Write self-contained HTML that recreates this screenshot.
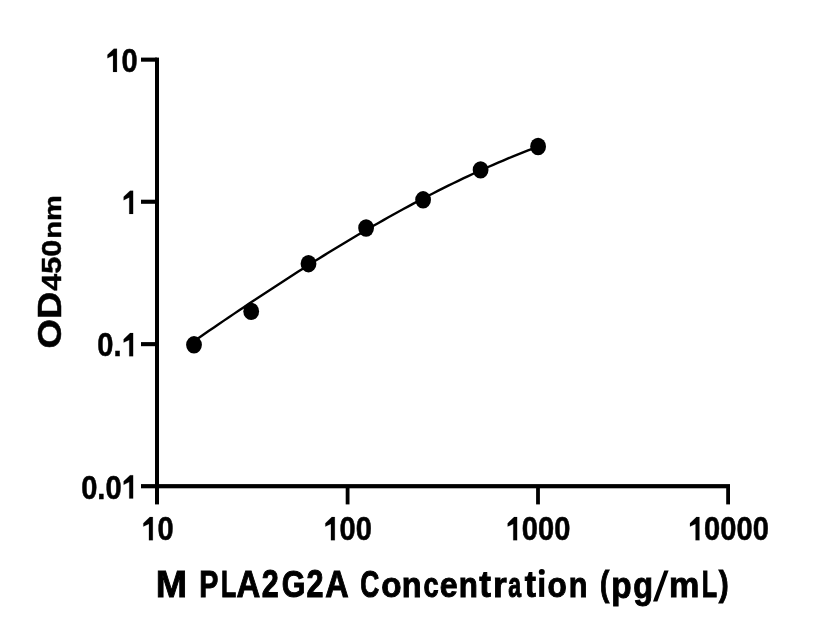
<!DOCTYPE html>
<html><head><meta charset="utf-8"><style>
html,body{margin:0;padding:0;background:#fff;}
svg{display:block;filter:grayscale(1);}
text{font-family:"Liberation Sans", sans-serif;font-weight:bold;fill:#000;}
</style></head><body>
<svg width="816" height="640" viewBox="0 0 816 640">
<title>OD450nm vs M PLA2G2A Concentration (pg/mL)</title>
<rect width="816" height="640" fill="#fff"/>
<rect x="155" y="57.6" width="4" height="446.8" fill="#000"/>
<rect x="141" y="57.60" width="16" height="4.1" fill="#000"/>
<rect x="141" y="199.70" width="16" height="4.1" fill="#000"/>
<rect x="141" y="342.10" width="16" height="4.1" fill="#000"/>
<rect x="141" y="484.1" width="589" height="4.2" fill="#000"/>
<rect x="345.70" y="486" width="3.8" height="18.4" fill="#000"/>
<rect x="536.10" y="486" width="3.8" height="18.4" fill="#000"/>
<rect x="726.20" y="486" width="3.8" height="18.4" fill="#000"/>
<path d="M194.00,341.09 L198.99,337.66 L203.97,334.23 L208.96,330.81 L213.94,327.41 L218.93,324.01 L223.91,320.62 L228.90,317.25 L233.88,313.88 L238.87,310.52 L243.86,307.18 L248.84,303.85 L253.83,300.53 L258.81,297.23 L263.80,293.93 L268.78,290.66 L273.77,287.39 L278.75,284.14 L283.74,280.91 L288.72,277.69 L293.71,274.49 L298.70,271.30 L303.68,268.14 L308.67,264.99 L313.65,261.85 L318.64,258.74 L323.62,255.64 L328.61,252.57 L333.59,249.51 L338.58,246.48 L343.57,243.46 L348.55,240.47 L353.54,237.49 L358.52,234.54 L363.51,231.61 L368.49,228.71 L373.48,225.83 L378.46,222.97 L383.45,220.13 L388.43,217.32 L393.42,214.54 L398.41,211.78 L403.39,209.05 L408.38,206.34 L413.36,203.66 L418.35,201.01 L423.33,198.38 L428.32,195.79 L433.30,193.22 L438.29,190.68 L443.28,188.17 L448.26,185.69 L453.25,183.25 L458.23,180.83 L463.22,178.44 L468.20,176.09 L473.19,173.77 L478.17,171.48 L483.16,169.22 L488.14,167.00 L493.13,164.81 L498.12,162.66 L503.10,160.54 L508.09,158.45 L513.07,156.40 L518.06,154.39 L523.04,152.42 L528.03,150.48 L533.01,148.58 L538.00,146.72" fill="none" stroke="#000" stroke-width="2.4" stroke-linejoin="round"/>
<ellipse cx="194" cy="344.8" rx="7.9" ry="8.7" fill="#000"/>
<ellipse cx="251.2" cy="311.4" rx="7.9" ry="8.7" fill="#000"/>
<ellipse cx="308.5" cy="263.7" rx="7.9" ry="8.7" fill="#000"/>
<ellipse cx="366.1" cy="228" rx="7.9" ry="8.7" fill="#000"/>
<ellipse cx="423.1" cy="199.8" rx="7.9" ry="8.7" fill="#000"/>
<ellipse cx="480.6" cy="169.9" rx="7.9" ry="8.7" fill="#000"/>
<ellipse cx="538.1" cy="146.5" rx="7.9" ry="8.7" fill="#000"/>
<path transform="translate(141.32,540.30) scale(29.1,-32.883)" d="M0.395,0 L0.395,0.707 L0.291,0.707 L0.070,0.521 L0.070,0.416 L0.262,0.498 L0.262,0 Z" fill="#000" stroke="#000" stroke-width="0.0052" stroke-linejoin="miter"/><text transform="translate(157.50,540.30) scale(1,1.13)" font-size="29.1" stroke="#000" stroke-width="0.45">0</text>
<path transform="translate(323.32,540.30) scale(29.1,-32.883)" d="M0.395,0 L0.395,0.707 L0.291,0.707 L0.070,0.521 L0.070,0.416 L0.262,0.498 L0.262,0 Z" fill="#000" stroke="#000" stroke-width="0.0052" stroke-linejoin="miter"/><text transform="translate(339.51,540.30) scale(1,1.13)" font-size="29.1" stroke="#000" stroke-width="0.45">0</text><text transform="translate(355.69,540.30) scale(1,1.13)" font-size="29.1" stroke="#000" stroke-width="0.45">0</text>
<path transform="translate(505.63,540.30) scale(29.1,-32.883)" d="M0.395,0 L0.395,0.707 L0.291,0.707 L0.070,0.521 L0.070,0.416 L0.262,0.498 L0.262,0 Z" fill="#000" stroke="#000" stroke-width="0.0052" stroke-linejoin="miter"/><text transform="translate(521.82,540.30) scale(1,1.13)" font-size="29.1" stroke="#000" stroke-width="0.45">0</text><text transform="translate(538.00,540.30) scale(1,1.13)" font-size="29.1" stroke="#000" stroke-width="0.45">0</text><text transform="translate(554.18,540.30) scale(1,1.13)" font-size="29.1" stroke="#000" stroke-width="0.45">0</text>
<path transform="translate(687.94,540.30) scale(29.1,-32.883)" d="M0.395,0 L0.395,0.707 L0.291,0.707 L0.070,0.521 L0.070,0.416 L0.262,0.498 L0.262,0 Z" fill="#000" stroke="#000" stroke-width="0.0052" stroke-linejoin="miter"/><text transform="translate(704.12,540.30) scale(1,1.13)" font-size="29.1" stroke="#000" stroke-width="0.45">0</text><text transform="translate(720.31,540.30) scale(1,1.13)" font-size="29.1" stroke="#000" stroke-width="0.45">0</text><text transform="translate(736.49,540.30) scale(1,1.13)" font-size="29.1" stroke="#000" stroke-width="0.45">0</text><text transform="translate(752.68,540.30) scale(1,1.13)" font-size="29.1" stroke="#000" stroke-width="0.45">0</text>
<path transform="translate(105.43,71.90) scale(29.1,-32.883)" d="M0.395,0 L0.395,0.707 L0.291,0.707 L0.070,0.521 L0.070,0.416 L0.262,0.498 L0.262,0 Z" fill="#000" stroke="#000" stroke-width="0.0052" stroke-linejoin="miter"/><text transform="translate(121.62,71.90) scale(1,1.13)" font-size="29.1" stroke="#000" stroke-width="0.45">0</text>
<path transform="translate(121.62,213.90) scale(29.1,-32.883)" d="M0.395,0 L0.395,0.707 L0.291,0.707 L0.070,0.521 L0.070,0.416 L0.262,0.498 L0.262,0 Z" fill="#000" stroke="#000" stroke-width="0.0052" stroke-linejoin="miter"/>
<text transform="translate(97.35,356.30) scale(1,1.13)" font-size="29.1" stroke="#000" stroke-width="0.45">0</text><text transform="translate(113.53,356.30) scale(1,1.13)" font-size="29.1" stroke="#000" stroke-width="0.45">.</text><path transform="translate(121.62,356.30) scale(29.1,-32.883)" d="M0.395,0 L0.395,0.707 L0.291,0.707 L0.070,0.521 L0.070,0.416 L0.262,0.498 L0.262,0 Z" fill="#000" stroke="#000" stroke-width="0.0052" stroke-linejoin="miter"/>
<text transform="translate(81.16,498.50) scale(1,1.13)" font-size="29.1" stroke="#000" stroke-width="0.45">0</text><text transform="translate(97.35,498.50) scale(1,1.13)" font-size="29.1" stroke="#000" stroke-width="0.45">.</text><text transform="translate(105.43,498.50) scale(1,1.13)" font-size="29.1" stroke="#000" stroke-width="0.45">0</text><path transform="translate(121.62,498.50) scale(29.1,-32.883)" d="M0.395,0 L0.395,0.707 L0.291,0.707 L0.070,0.521 L0.070,0.416 L0.262,0.498 L0.262,0 Z" fill="#000" stroke="#000" stroke-width="0.0052" stroke-linejoin="miter"/>
<text transform="translate(61.2,348.45) rotate(-90) scale(1.115,1)" font-size="34.0" stroke="#000" stroke-width="0.5">OD</text>
<text transform="translate(61,290.76) rotate(-90) scale(1.131,1)" font-size="27.0" stroke="#000" stroke-width="0.45">450</text>
<text transform="translate(61,238.81) rotate(-90) scale(1.21,1)" font-size="24.0" stroke="#000" stroke-width="0.45">nm</text>
<text transform="translate(155.73,597.05) scale(0.9403,0.9448)" font-size="40" stroke="#000" stroke-width="0.9" vector-effect="non-scaling-stroke">M</text>
<text transform="translate(199.14,597.05) scale(0.7157,0.9448)" font-size="40" stroke="#000" stroke-width="0.9" vector-effect="non-scaling-stroke">P</text>
<text transform="translate(220.98,597.05) scale(0.6236,0.9448)" font-size="40" stroke="#000" stroke-width="0.9" vector-effect="non-scaling-stroke">L</text>
<text transform="translate(236.53,597.05) scale(0.8235,0.9448)" font-size="40" stroke="#000" stroke-width="0.9" vector-effect="non-scaling-stroke">A</text>
<text transform="translate(261.79,597.45) scale(0.7633,0.9560)" font-size="40" stroke="#000" stroke-width="0.9" vector-effect="non-scaling-stroke">2</text>
<text transform="translate(281.70,597.08) scale(0.7632,0.9428)" font-size="40" stroke="#000" stroke-width="0.9" vector-effect="non-scaling-stroke">G</text>
<text transform="translate(306.39,597.45) scale(0.7633,0.9560)" font-size="40" stroke="#000" stroke-width="0.9" vector-effect="non-scaling-stroke">2</text>
<text transform="translate(325.24,597.05) scale(0.8123,0.9448)" font-size="40" stroke="#000" stroke-width="0.9" vector-effect="non-scaling-stroke">A</text>
<text transform="translate(360.27,597.08) scale(0.6577,0.9428)" font-size="40" stroke="#000" stroke-width="0.9" vector-effect="non-scaling-stroke">C</text>
<text transform="translate(381.15,597.11) scale(0.8307,0.8716)" font-size="40" stroke="#000" stroke-width="0.9" vector-effect="non-scaling-stroke">o</text>
<text transform="translate(401.81,597.05) scale(0.8128,0.8541)" font-size="40" stroke="#000" stroke-width="0.9" vector-effect="non-scaling-stroke">n</text>
<text transform="translate(423.38,597.11) scale(0.6816,0.8716)" font-size="40" stroke="#000" stroke-width="0.9" vector-effect="non-scaling-stroke">c</text>
<text transform="translate(439.70,597.11) scale(0.8024,0.8716)" font-size="40" stroke="#000" stroke-width="0.9" vector-effect="non-scaling-stroke">e</text>
<text transform="translate(458.79,597.05) scale(0.7817,0.8541)" font-size="40" stroke="#000" stroke-width="0.9" vector-effect="non-scaling-stroke">n</text>
<text transform="translate(479.22,597.13) scale(0.8830,0.9113)" font-size="40" stroke="#000" stroke-width="0.9" vector-effect="non-scaling-stroke">t</text>
<text transform="translate(493.02,597.05) scale(0.8844,0.8541)" font-size="40" stroke="#000" stroke-width="0.9" vector-effect="non-scaling-stroke">r</text>
<text transform="translate(508.37,597.11) scale(0.5767,0.8716)" font-size="40" stroke="#000" stroke-width="0.9" vector-effect="non-scaling-stroke">a</text>
<text transform="translate(524.74,597.13) scale(0.8425,0.9113)" font-size="40" stroke="#000" stroke-width="0.9" vector-effect="non-scaling-stroke">t</text>
<text transform="translate(547.42,597.11) scale(0.7884,0.8716)" font-size="40" stroke="#000" stroke-width="0.9" vector-effect="non-scaling-stroke">o</text>
<text transform="translate(568.73,597.05) scale(0.7662,0.8541)" font-size="40" stroke="#000" stroke-width="0.9" vector-effect="non-scaling-stroke">n</text>
<text transform="translate(599.96,596.11) scale(0.6998,0.8717)" font-size="40" stroke="#000" stroke-width="0.9" vector-effect="non-scaling-stroke">(</text>
<text transform="translate(611.35,598.17) scale(0.8335,0.9136)" font-size="40" stroke="#000" stroke-width="0.9" vector-effect="non-scaling-stroke">p</text>
<text transform="translate(633.32,598.04) scale(0.8103,0.9094)" font-size="40" stroke="#000" stroke-width="0.9" vector-effect="non-scaling-stroke">g</text>
<text transform="translate(669.00,597.05) scale(0.8539,0.8541)" font-size="40" stroke="#000" stroke-width="0.9" vector-effect="non-scaling-stroke">m</text>
<text transform="translate(701.87,597.05) scale(0.6284,0.9448)" font-size="40" stroke="#000" stroke-width="0.9" vector-effect="non-scaling-stroke">L</text>
<text transform="translate(718.72,596.11) scale(0.7441,0.8717)" font-size="40" stroke="#000" stroke-width="0.9" vector-effect="non-scaling-stroke">)</text>
<rect x="539.2" y="577.7" width="5.0" height="19.2" fill="#000"/><ellipse cx="541.8" cy="571.9" rx="3.0" ry="2.9" fill="#000"/>
<path d="M664.25,570.4 L668.6,570.4 L657.4,601.6 L653,601.6 Z" fill="#000"/>
</svg>
</body></html>
